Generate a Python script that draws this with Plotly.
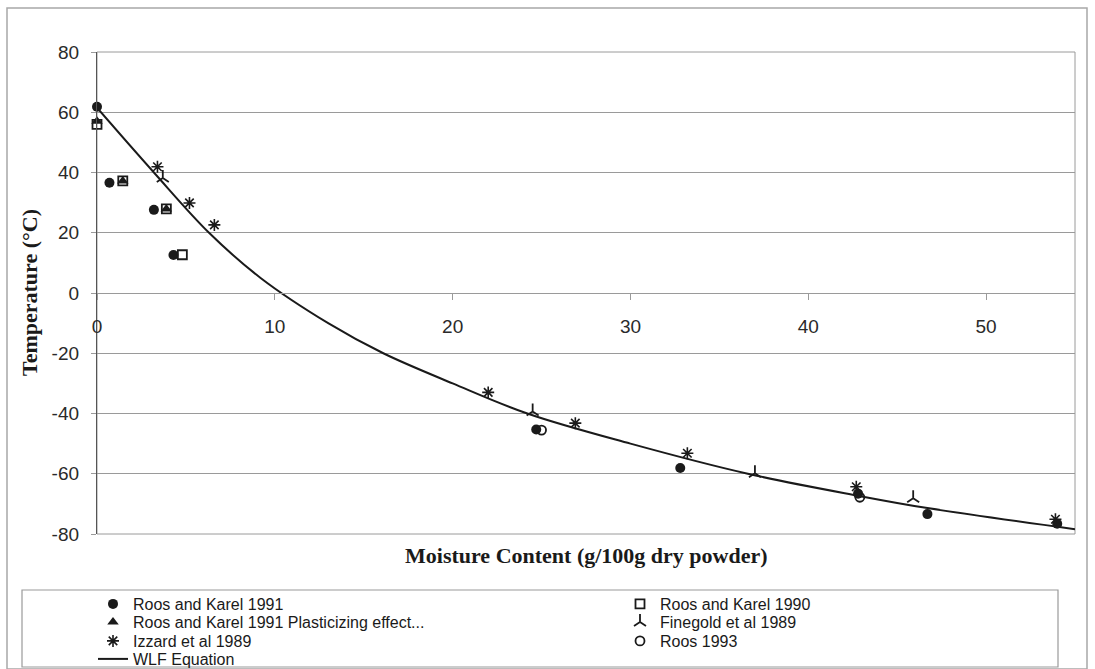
import plotly.graph_objects as go

# ---------------- data ----------------
rk1991_x = [0, 0.7, 3.2, 4.3, 24.7, 32.8, 42.8, 46.7, 54.0]
rk1991_y = [61.8, 36.6, 27.6, 12.6, -45.3, -58.1, -66.6, -73.4, -76.6]

rk1990_x = [0, 1.45, 3.9, 4.8]
rk1990_y = [56.0, 37.2, 27.9, 12.7]

plast_x = [0, 1.45, 3.9]
plast_y = [57.0, 37.2, 27.9]

finegold_x = [3.7, 24.5, 37.0, 45.9]
finegold_y = [38.2, -39.3, -59.8, -68.1]

izzard_x = [3.4, 5.2, 6.6, 22.0, 26.9, 33.2, 42.7, 53.9]
izzard_y = [41.9, 29.9, 22.6, -33.0, -43.2, -53.2, -64.3, -75.1]

roos1993_x = [25.0, 42.9]
roos1993_y = [-45.5, -67.8]

wlf_x = [0, 3.2, 6.3, 9.2, 13, 16.1, 20, 24.2, 30, 36.6, 42.8, 46.7, 55]
wlf_y = [61.5, 40, 20, 5.0, -10, -20, -30, -40, -50, -60, -67.3, -71.4, -78.4]

x_ticks = [0, 10, 20, 30, 40, 50]
y_ticks = [80, 60, 40, 20, 0, -20, -40, -60, -80]

# ---------------- styling ----------------
SANS = "Liberation Sans, Arial, sans-serif"
SERIF = "Liberation Serif, Times New Roman, serif"
INK = "#1a1a1a"
GRID = "#9a9a9a"

W, H = 1095, 669
L, R, T, B = 97, 20, 52, 135
PW, PH = W - L - R, H - T - B


def px_x(p):
    return (p - L) / PW


def px_y(p):
    return (H - B - p) / PH


fig = go.Figure()

fig.add_trace(go.Scatter(
    x=wlf_x, y=wlf_y, mode="lines", name="WLF Equation",
    line=dict(color=INK, width=2, shape="spline", smoothing=1.0),
    legend="legend7", cliponaxis=False,
))

fig.add_trace(go.Scatter(
    x=rk1991_x, y=rk1991_y, mode="markers", name="Roos and Karel 1991",
    marker=dict(symbol="circle", size=10, color=INK),
    legend="legend", cliponaxis=False,
))
fig.add_trace(go.Scatter(
    x=rk1990_x, y=rk1990_y, mode="markers", name="Roos and Karel 1990",
    marker=dict(symbol="square-open", size=9, color=INK, line=dict(width=1.8, color=INK)),
    legend="legend2", cliponaxis=False,
))
fig.add_trace(go.Scatter(
    x=plast_x, y=plast_y, mode="markers", name="Roos and Karel 1991 Plasticizing effect...",
    marker=dict(symbol="triangle-up", size=10, color=INK),
    legend="legend3", cliponaxis=False,
))
fig.add_trace(go.Scatter(
    x=finegold_x, y=finegold_y, mode="markers", name="Finegold et al 1989",
    marker=dict(symbol="y-up-open", size=10, color=INK, line=dict(width=1.8, color=INK)),
    legend="legend4", cliponaxis=False,
))
fig.add_trace(go.Scatter(
    x=izzard_x, y=izzard_y, mode="markers", name="Izzard et al 1989",
    marker=dict(symbol="asterisk-open", size=10, color=INK, line=dict(width=1.6, color=INK)),
    legend="legend5", cliponaxis=False,
))
fig.add_trace(go.Scatter(
    x=roos1993_x, y=roos1993_y, mode="markers", name="Roos 1993",
    marker=dict(symbol="circle-open", size=9, color=INK, line=dict(width=1.8, color=INK)),
    legend="legend6", cliponaxis=False,
))

# ---- legends: one per entry, laid out as two columns ----
col1 = px_x(93)
col2 = px_x(620)
rows = [px_y(604), px_y(622), px_y(641), px_y(659)]
leg_font = dict(family=SANS, size=16, color=INK)


def leg(x, y):
    return dict(x=x, y=y, xanchor="left", yanchor="middle",
                bgcolor="rgba(0,0,0,0)", borderwidth=0, font=leg_font)


fig.update_layout(
    legend=leg(col1, rows[0]),
    legend2=leg(col2, rows[0]),
    legend3=leg(col1, rows[1]),
    legend4=leg(col2, rows[1]),
    legend5=leg(col1, rows[2]),
    legend6=leg(col2, rows[2]),
    legend7=leg(col1, rows[3]),
)

fig.update_layout(
    width=W, height=H,
    margin=dict(l=L, r=R, t=T, b=B, pad=0, autoexpand=False),
    paper_bgcolor="white", plot_bgcolor="white",
    showlegend=True,
    font=dict(family=SANS, color=INK),
    xaxis=dict(
        range=[0, 55], tickvals=x_ticks, ticktext=[str(v) for v in x_ticks],
        showgrid=False, zeroline=False,
        showline=True, linecolor=GRID, linewidth=1,
        ticks="outside", ticklen=6, tickcolor=GRID,
        anchor="free", position=0.5,
        tickfont=dict(family=SANS, size=19, color="#2a2a2a"),
        ticklabelstandoff=10,
    ),
    yaxis=dict(
        range=[-80, 80], tickvals=y_ticks, ticktext=[str(v) for v in y_ticks],
        showgrid=True, gridcolor=GRID, gridwidth=1, zeroline=False,
        showline=True, linecolor="#555", linewidth=1.3,
        ticks="outside", ticklen=5, tickcolor=GRID,
        tickfont=dict(family=SANS, size=19, color="#2a2a2a"),
        ticklabelstandoff=8,
    ),
    shapes=[
        # plot-area frame
        dict(type="rect", xref="paper", yref="paper", x0=0, x1=1, y0=0, y1=1,
             line=dict(color=GRID, width=1), layer="below"),
        # outer chart frame
        dict(type="rect", xref="paper", yref="paper",
             x0=px_x(7), x1=px_x(1087), y0=px_y(669), y1=px_y(8),
             line=dict(color="#a8a8a8", width=1.5), layer="below"),
        # legend box
        dict(type="rect", xref="paper", yref="paper",
             x0=px_x(22), x1=px_x(1058), y0=px_y(667), y1=px_y(590),
             line=dict(color="#9a9a9a", width=1.2), layer="below"),
    ],
    annotations=[
        dict(text="<b>Moisture Content (g/100g dry powder)</b>", xref="paper", yref="paper",
             x=0.5, y=px_y(555), xanchor="center", yanchor="middle", showarrow=False,
             font=dict(family=SERIF, size=22, color=INK)),
        dict(text="<b>Temperature (°C)</b>", xref="paper", yref="paper",
             x=px_x(29), y=0.5, xanchor="center", yanchor="middle", showarrow=False,
             textangle=-90, font=dict(family=SERIF, size=22, color=INK)),
    ],
)

fig.write_html("out.html")
